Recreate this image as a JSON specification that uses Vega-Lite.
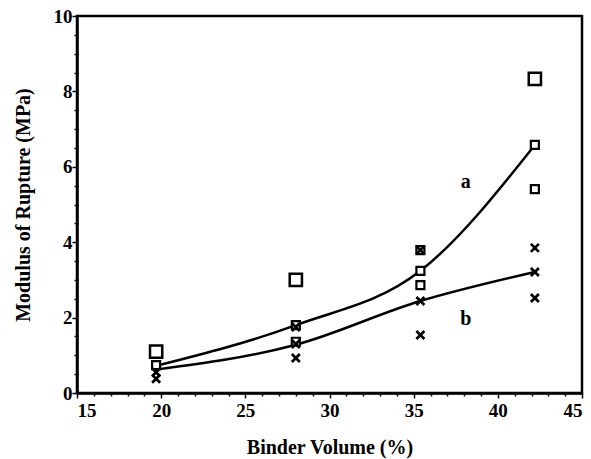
{
  "$schema": "https://vega.github.io/schema/vega-lite/v6.json",
  "width": 505,
  "height": 377,
  "autosize": {"type": "none"},
  "padding": {"left": 77, "top": 16, "right": 9, "bottom": 66},
  "background": "white",
  "config": {
    "view": {"stroke": "black", "strokeWidth": 2.5},
    "font": "Liberation Serif",
    "axis": {
      "domainColor": "black",
      "domainWidth": 2.5,
      "tickColor": "black",
      "tickWidth": 1.5,
      "labelFont": "Liberation Serif",
      "labelFontWeight": "bold",
      "labelFontSize": 19,
      "labelColor": "black",
      "titleFont": "Liberation Serif",
      "titleFontWeight": "bold",
      "titleFontSize": 20,
      "titleColor": "black",
      "grid": false,
      "labelOverlap": false
    }
  },
  "datasets": {
    "pts": [
      {"binder": 19.7, "mor": 1.1, "kind": "big"},
      {"binder": 28.0, "mor": 3.0, "kind": "big"},
      {"binder": 42.2, "mor": 8.33, "kind": "big"},
      {"binder": 19.7, "mor": 0.74, "kind": "small"},
      {"binder": 28.0, "mor": 1.8, "kind": "small"},
      {"binder": 28.0, "mor": 1.36, "kind": "small"},
      {"binder": 35.4, "mor": 3.79, "kind": "small"},
      {"binder": 35.4, "mor": 3.24, "kind": "small"},
      {"binder": 35.4, "mor": 2.86, "kind": "small"},
      {"binder": 42.2, "mor": 6.58, "kind": "small"},
      {"binder": 42.2, "mor": 5.41, "kind": "small"},
      {"binder": 19.7, "mor": 0.55, "kind": "x"},
      {"binder": 19.7, "mor": 0.38, "kind": "x"},
      {"binder": 28.0, "mor": 1.75, "kind": "x"},
      {"binder": 28.0, "mor": 1.3, "kind": "x"},
      {"binder": 28.0, "mor": 0.93, "kind": "x"},
      {"binder": 35.4, "mor": 3.79, "kind": "x"},
      {"binder": 35.4, "mor": 2.44, "kind": "x"},
      {"binder": 35.4, "mor": 1.54, "kind": "x"},
      {"binder": 42.2, "mor": 3.85, "kind": "x"},
      {"binder": 42.2, "mor": 3.21, "kind": "x"},
      {"binder": 42.2, "mor": 2.52, "kind": "x"}
    ],
    "curves": [
      {"binder": 19.7, "mor": 0.72, "curve": "a"},
      {"binder": 28.0, "mor": 1.8, "curve": "a"},
      {"binder": 35.4, "mor": 3.24, "curve": "a"},
      {"binder": 42.2, "mor": 6.58, "curve": "a"},
      {"binder": 19.7, "mor": 0.62, "curve": "b"},
      {"binder": 28.0, "mor": 1.28, "curve": "b"},
      {"binder": 35.4, "mor": 2.44, "curve": "b"},
      {"binder": 42.2, "mor": 3.21, "curve": "b"}
    ],
    "labels": [
      {"binder": 38.1, "mor": 5.6, "text": "a"},
      {"binder": 38.1, "mor": 1.95, "text": "b"}
    ]
  },
  "encoding": {
    "x": {
      "field": "binder",
      "type": "quantitative",
      "scale": {"domain": [15, 45], "nice": false, "zero": false},
      "axis": {
        "title": "Binder Volume (%)",
        "values": [15,16,17,18,19,20,21,22,23,24,25,26,27,28,29,30,31,32,33,34,35,36,37,38,39,40,41,42,43,44,45],
        "labelExpr": "datum.value % 5 === 0 ? toString(datum.value) : ''",
        "tickSize": {"condition": {"test": "datum.value % 5 === 0", "value": 5}, "value": 3},
        "labelPadding": 3,
        "titlePadding": 17
      }
    },
    "y": {
      "field": "mor",
      "type": "quantitative",
      "scale": {"domain": [0, 10], "nice": false},
      "axis": {
        "title": "Modulus of Rupture (MPa)",
        "values": [0,0.5,1,1.5,2,2.5,3,3.5,4,4.5,5,5.5,6,6.5,7,7.5,8,8.5,9,9.5,10],
        "labelExpr": "datum.value % 2 === 0 ? toString(datum.value) : ''",
        "tickSize": {"condition": {"test": "datum.value % 2 === 0", "value": 5}, "value": 3},
        "labelPadding": 0,
        "titlePadding": 20
      }
    }
  },
  "layer": [
    {
      "data": {"name": "curves"},
      "mark": {"type": "line", "interpolate": "monotone", "color": "black", "strokeWidth": 2.5},
      "encoding": {"detail": {"field": "curve"}}
    },
    {
      "data": {"name": "pts"},
      "transform": [{"filter": "datum.kind === 'big'"}],
      "mark": {"type": "point", "shape": "square", "filled": false, "color": "black", "strokeWidth": 2.5, "size": 150, "opacity": 1}
    },
    {
      "data": {"name": "pts"},
      "transform": [{"filter": "datum.kind === 'small'"}],
      "mark": {"type": "point", "shape": "square", "filled": true, "fill": "white", "stroke": "black", "strokeWidth": 2.2, "size": 64, "opacity": 1}
    },
    {
      "data": {"name": "pts"},
      "transform": [{"filter": "datum.kind === 'x'"}],
      "mark": {"type": "point", "shape": "M-1,-1L1,1M-1,1L1,-1", "filled": false, "color": "black", "strokeWidth": 2.7, "size": 64, "opacity": 1}
    },
    {
      "data": {"name": "labels"},
      "mark": {"type": "text", "font": "Liberation Serif", "fontWeight": "bold", "fontSize": 20, "color": "black"},
      "encoding": {"text": {"field": "text"}}
    }
  ]
}
